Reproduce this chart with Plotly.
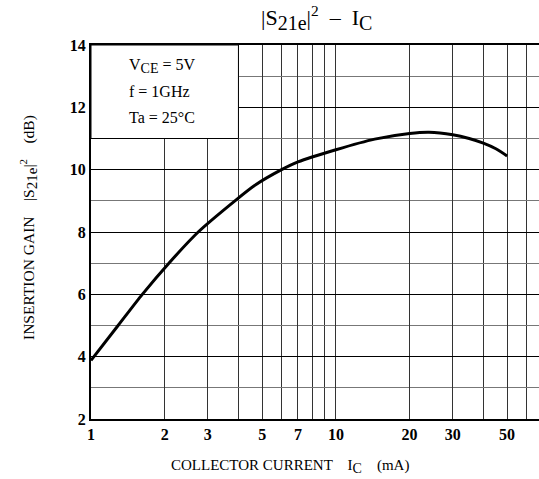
import numpy as np
import plotly.graph_objects as go

# Data
ic_ma = [1, 1.29, 1.62, 2.08, 2.74, 3.87, 4.67, 6.0, 7.0, 10, 14.4, 20, 24, 30, 35, 40, 45, 50]
gain_db = [3.88, 5.0, 6.0, 7.0, 8.0, 9.0, 9.5, 10.0, 10.25, 10.64, 10.98, 11.16, 11.2, 11.12, 11.0, 10.85, 10.67, 10.44]

x_labeled = [1, 2, 3, 5, 7, 10, 20, 30, 50]
x_minor = [4, 6, 8, 9, 40, 60]
y_ticks = [2, 4, 6, 8, 10, 12, 14]

FONT = "Liberation Serif"

fig = go.Figure()
fig.add_trace(go.Scatter(x=ic_ma, y=gain_db, mode="lines",
                         line=dict(color="black", width=3, shape="spline", smoothing=0.7),
                         hoverinfo="skip", showlegend=False))

# conditions box (hides grid in upper left)
fig.add_shape(type="rect", xref="x", yref="y", x0=1, x1=4, y0=11, y1=14,
              fillcolor="white", line=dict(color="black", width=1), layer="between")

fig.update_layout(
    width=539, height=479,
    margin=dict(l=91, r=0, t=45, b=60),
    paper_bgcolor="white", plot_bgcolor="white",
    font=dict(family=FONT, color="black"),
    showlegend=False,
)
fig.update_xaxes(
    type="log", range=[0, np.log10(67.5)],
    tickmode="array", tickvals=x_labeled, ticktext=[str(v) for v in x_labeled],
    showgrid=True, gridcolor="#333", gridwidth=1,
    minor=dict(tickmode="array", tickvals=x_minor, showgrid=True, gridcolor="#333", gridwidth=1, ticks=""),
    showline=True, linecolor="black", linewidth=2, mirror=True,
    ticks="", tickfont=dict(family=FONT, size=16, color="black", weight="bold"),
    zeroline=False,
)
fig.update_yaxes(
    range=[2, 14], tickmode="array", tickvals=y_ticks,
    showgrid=True, gridcolor="black", gridwidth=1,
    minor=dict(dtick=1, tick0=1, showgrid=True, gridcolor="#777", gridwidth=1, ticks=""),
    showline=True, linecolor="black", linewidth=2, mirror=False,
    ticks="", tickfont=dict(family=FONT, size=16, color="black", weight="bold"),
    zeroline=False,
)

def sub(t, px):
    return f"<sub><span style='font-size:{px}px'>{t}</span></sub>"

anns = [
    dict(x=316, y=18, text="|S" + sub("21e", 20) + "|<sup>2</sup>  –  I" + sub("C", 20), font=dict(size=22)),
    dict(x=290, y=466, text="COLLECTOR CURRENT    I" + sub("C", 14) + "    (mA)", font=dict(size=15)),
    dict(x=29, y=228, text="INSERTION GAIN    |S" + sub("21e", 15) + "|<sup>2</sup>    (dB)", font=dict(size=15.5), textangle=-90),
]
for a in anns:
    fig.add_annotation(xref="paper", yref="paper", showarrow=False,
                       x=(a["x"] - 91) / 448, y=(419 - a["y"]) / 374,
                       xanchor="center", yanchor="middle", text=a["text"],
                       font=dict(family=FONT, color="black", **a["font"]),
                       textangle=a.get("textangle", 0))

for txt, yy in [("V" + sub("CE", 14) + " = 5V", 66), ("f = 1GHz", 92), ("Ta = 25°C", 117)]:
    fig.add_annotation(xref="paper", yref="paper", showarrow=False,
                       x=(127 - 91) / 448, y=(419 - yy) / 374,
                       xanchor="left", yanchor="middle", text=txt,
                       font=dict(family=FONT, color="black", size=16))

fig.write_html("out.html")
